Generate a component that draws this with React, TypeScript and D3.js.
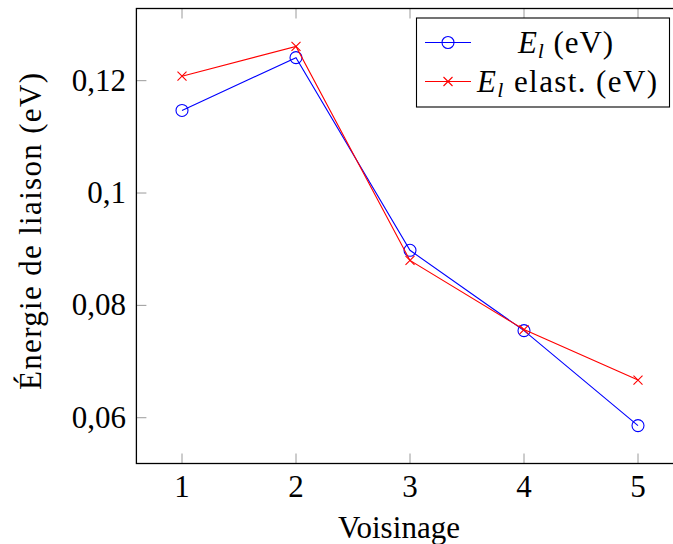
import React from "react";
import * as d3 from "d3";

// Voisinage index (neighbour shell)
const voisinage = [1, 2, 3, 4, 5];
// Binding energy (eV)
const energieLiaison = [0.1147, 0.1241, 0.0898, 0.0755, 0.0586];
// Elastic binding energy (eV)
const energieElast = [0.1208, 0.1261, 0.088, 0.0757, 0.0667];

const xTicks = [1, 2, 3, 4, 5];
const yTicks = [0.06, 0.08, 0.1, 0.12];
const yTickLabels = ["0,06", "0,08", "0,1", "0,12"];

const W = 673;
const H = 544;
const FONT = '"Liberation Serif", "DejaVu Serif", "Times New Roman", serif';

export default function App() {
  const left = 136.4;
  const right = 683.6;
  const top = 8.5;
  const bottom = 463.5;

  const x = d3.scaleLinear().domain([0.6, 5.4]).range([left, right]);
  const all = [...energieLiaison, ...energieElast];
  const lo = d3.min(all)!;
  const hi = d3.max(all)!;
  const pad = (hi - lo) * 0.1;
  const y = d3.scaleLinear().domain([lo - pad, hi + pad]).range([bottom, top]);

  const line = d3
    .line<number>()
    .x((_, i) => x(voisinage[i]))
    .y((d) => y(d));

  const tickLen = 10;
  const tickColor = "#9a9a9a";

  const legX = 416.5;
  const legY = 18;
  const legW = 253;
  const legH = 89;
  const row1 = 42.5;
  const row2 = 81.5;

  const cross = (cx: number, cy: number, s: number, color: string, key?: string) => (
    <path
      key={key}
      d={`M${cx - s},${cy - s}L${cx + s},${cy + s}M${cx - s},${cy + s}L${cx + s},${cy - s}`}
      stroke={color}
      strokeWidth={1.1}
      fill="none"
    />
  );

  const txt = { fontFamily: FONT };

  return (
    <svg
      width={W}
      height={H}
      style={{ position: "absolute", left: 0, top: 0, background: "#fff", fontFamily: FONT }}
    >
      <rect x={0} y={0} width={W} height={H} fill="#fff" />
      <defs>
        <clipPath id="plotArea">
          <rect x={left} y={top} width={right - left} height={bottom - top} />
        </clipPath>
      </defs>

      {/* ticks on all four sides, pointing inward */}
      {xTicks.map((t) => (
        <g key={"xt" + t} stroke={tickColor} strokeWidth={1}>
          <line x1={x(t)} x2={x(t)} y1={bottom} y2={bottom - tickLen} />
          <line x1={x(t)} x2={x(t)} y1={top} y2={top + tickLen} />
        </g>
      ))}
      {yTicks.map((t) => (
        <g key={"yt" + t} stroke={tickColor} strokeWidth={1}>
          <line x1={left} x2={left + tickLen} y1={y(t)} y2={y(t)} />
          <line x1={right} x2={right - tickLen} y1={y(t)} y2={y(t)} />
        </g>
      ))}

      {/* series */}
      <g clipPath="url(#plotArea)">
        <path d={line(energieLiaison)!} fill="none" stroke="#0000ff" strokeWidth={1.1} />
        {energieLiaison.map((v, i) => (
          <circle key={"b" + i} cx={x(voisinage[i])} cy={y(v)} r={6} fill="none" stroke="#0000ff" strokeWidth={1.1} />
        ))}
        <path d={line(energieElast)!} fill="none" stroke="#ff0000" strokeWidth={1.1} />
        {energieElast.map((v, i) => cross(x(voisinage[i]), y(v), 4.5, "#ff0000", "r" + i))}
      </g>

      {/* axis box */}
      <rect x={left} y={top} width={right - left} height={bottom - top} fill="none" stroke="#000" strokeWidth={1.3} />

      {/* tick labels */}
      {xTicks.map((t) => (
        <text key={"xl" + t} style={txt} x={x(t)} y={497} textAnchor="middle" fontSize={31} fill="#000">
          {t}
        </text>
      ))}
      {yTicks.map((t, i) => (
        <text key={"yl" + t} style={txt} x={126} y={y(t) + 10} textAnchor="end" fontSize={31} fill="#000">
          {yTickLabels[i]}
        </text>
      ))}

      {/* axis labels */}
      <text
        style={txt}
        x={338}
        y={538}
        fontSize={31}
        fill="#000"
        textLength={122}
        lengthAdjust="spacing"
      >
        Voisinage
      </text>
      <text
        style={txt}
        transform={`translate(41, 390) rotate(-90)`}
        fontSize={31}
        fill="#000"
        textLength={317}
        lengthAdjust="spacing"
      >
        Énergie de liaison (eV)
      </text>

      {/* legend */}
      <rect x={legX} y={legY} width={legW} height={legH} fill="#fff" stroke="#000" strokeWidth={1.1} />
      <line x1={425} x2={471} y1={row1} y2={row1} stroke="#0000ff" strokeWidth={1.1} />
      <circle cx={448} cy={row1} r={6} fill="none" stroke="#0000ff" strokeWidth={1.1} />
      <line x1={425} x2={471} y1={row2} y2={row2} stroke="#ff0000" strokeWidth={1.1} />
      {cross(448, row2, 4.5, "#ff0000")}
      <text style={txt} x={518} y={row1 + 10} fontSize={31} fill="#000" textLength={95} lengthAdjust="spacing">
        <tspan fontStyle="italic">E</tspan>
        <tspan fontStyle="italic" fontSize={22} dy={5}>l</tspan>
        <tspan dy={-5}> (eV)</tspan>
      </text>
      <text style={txt} x={477} y={row2 + 10} fontSize={31} fill="#000" textLength={180} lengthAdjust="spacing">
        <tspan fontStyle="italic">E</tspan>
        <tspan fontStyle="italic" fontSize={22} dy={5}>l</tspan>
        <tspan dy={-5}> elast. (eV)</tspan>
      </text>
    </svg>
  );
}
